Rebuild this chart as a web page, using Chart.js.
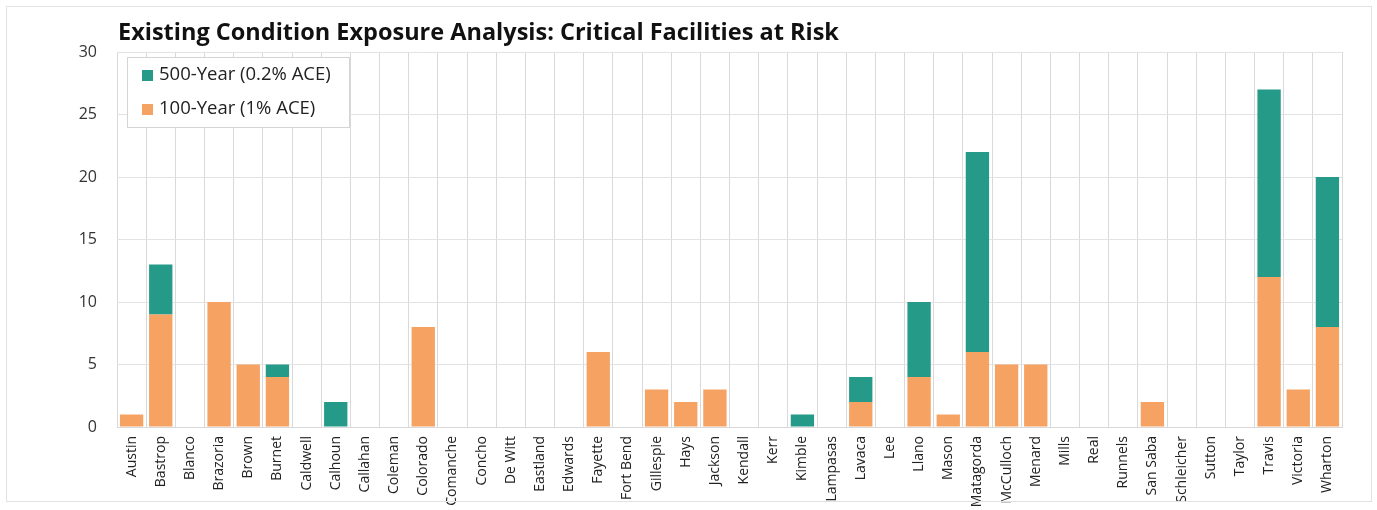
<!DOCTYPE html>
<html>
<head>
<meta charset="utf-8">
<script src="https://cdn.jsdelivr.net/npm/chart.js@4.4.1/dist/chart.umd.min.js"></script>
<style>
  html, body { margin: 0; padding: 0; background: #fff; }
  #wrap { position: relative; width: 1377px; height: 510px; }
  #frame { position: absolute; left: 6px; top: 6px; width: 1364px; height: 494px; border: 1px solid #e2e2e2; pointer-events: none; }
  canvas { position: absolute; left: 0; top: 0; }
</style>
</head>
<body>
<div id="wrap">
  <canvas id="chart" width="1377" height="510"></canvas>
  <div id="frame"></div>
</div>
<script>
// Data
const counties = ['Austin', 'Bastrop', 'Blanco', 'Brazoria', 'Brown', 'Burnet', 'Caldwell', 'Calhoun', 'Callahan', 'Coleman',
    'Colorado', 'Comanche', 'Concho', 'De Witt', 'Eastland', 'Edwards', 'Fayette', 'Fort Bend', 'Gillespie', 'Hays',
    'Jackson', 'Kendall', 'Kerr', 'Kimble', 'Lampasas', 'Lavaca', 'Lee', 'Llano', 'Mason', 'Matagorda',
    'McCulloch', 'Menard', 'Mills', 'Real', 'Runnels', 'San Saba', 'Schleicher', 'Sutton', 'Taylor', 'Travis',
    'Victoria', 'Wharton'];
const year100 = [1, 9, 0, 10, 5, 4, 0, 0, 0, 0,
    8, 0, 0, 0, 0, 0, 6, 0, 3, 2,
    3, 0, 0, 0, 0, 2, 0, 4, 1, 6,
    5, 5, 0, 0, 0, 2, 0, 0, 0, 12,
    3, 8];
const year500 = [0, 4, 0, 0, 0, 1, 0, 2, 0, 0,
    0, 0, 0, 0, 0, 0, 0, 0, 0, 0,
    0, 0, 0, 1, 0, 2, 0, 6, 0, 16,
    0, 0, 0, 0, 0, 0, 0, 0, 0, 15,
    0, 12];
const yTicks = [0, 5, 10, 15, 20, 25, 30];

const chartTitle = 'Existing Condition Exposure Analysis: Critical Facilities at Risk';
const ORANGE = '#f5a262';
const TEAL = '#259a89';
const FONT = "'Open Sans', 'DejaVu Sans', sans-serif";

// Title drawn at the left edge of the plot area
const titlePlugin = {
    id: 'leftTitle',
    afterDraw(chart) {
        const ctx = chart.ctx;
        ctx.save();
        ctx.font = 'bold 23.5px ' + FONT;
        ctx.fillStyle = '#111';
        ctx.textBaseline = 'middle';
        ctx.fillText(chartTitle, chart.chartArea.left + 1, 33);
        ctx.restore();
    }
};

// Boxed legend inside the plot area, 500-year listed first
const boxLegend = {
    id: 'boxLegend',
    afterDatasetsDraw(chart) {
        const ctx = chart.ctx;
        const x = chart.chartArea.left + 10, y = chart.chartArea.top + 5;
        const w = 222, h = 70;
        ctx.save();
        ctx.fillStyle = '#fff';
        ctx.fillRect(x, y, w, h);
        ctx.strokeStyle = '#d4d4d4';
        ctx.lineWidth = 1;
        ctx.strokeRect(x + 0.5, y + 0.5, w, h);
        const items = chart.data.datasets.slice().reverse();
        ctx.font = '18.5px ' + FONT;
        ctx.textBaseline = 'middle';
        items.forEach((ds, i) => {
            const cy = y + 18 + i * 34;
            ctx.fillStyle = ds.backgroundColor;
            ctx.fillRect(x + 15, cy - 5, 11, 11);
            ctx.fillStyle = '#222';
            ctx.fillText(ds.label, x + 32, cy);
        });
        ctx.restore();
    }
};

new Chart(document.getElementById('chart'), {
    type: 'bar',
    data: {
        labels: counties,
        datasets: [{
            label: '100-Year (1% ACE)',
            data: year100,
            backgroundColor: ORANGE,
            categoryPercentage: 0.8,
            barPercentage: 1
        }, {
            label: '500-Year (0.2% ACE)',
            data: year500,
            backgroundColor: TEAL,
            categoryPercentage: 0.8,
            barPercentage: 1
        }]
    },
    options: {
        responsive: false,
        animation: false,
        layout: { padding: { top: 52, right: 35, bottom: 0, left: 0 } },
        plugins: {
            legend: { display: false },
            title: { display: false },
            tooltip: { enabled: false }
        },
        scales: {
            x: {
                stacked: true,
                grid: { color: '#d9d9d9', offset: true, drawTicks: false },
                border: { color: '#d9d9d9' },
                ticks: {
                    minRotation: 90, maxRotation: 90, autoSkip: false,
                    padding: 9, color: '#222',
                    font: { family: FONT, size: 14 }
                },
                afterFit(scale) { scale.height = 83; }
            },
            y: {
                stacked: true,
                min: 0, max: 30,
                afterBuildTicks(scale) { scale.ticks = yTicks.map(v => ({ value: v })); },
                grid: { color: '#e3e3e3', drawTicks: false },
                border: { display: false },
                ticks: {
                    padding: 20, color: '#333',
                    font: { family: FONT, size: 16 }
                },
                afterFit(scale) { scale.width = 117; }
            }
        }
    },
    plugins: [titlePlugin, boxLegend]
});
</script>
</body>
</html>
